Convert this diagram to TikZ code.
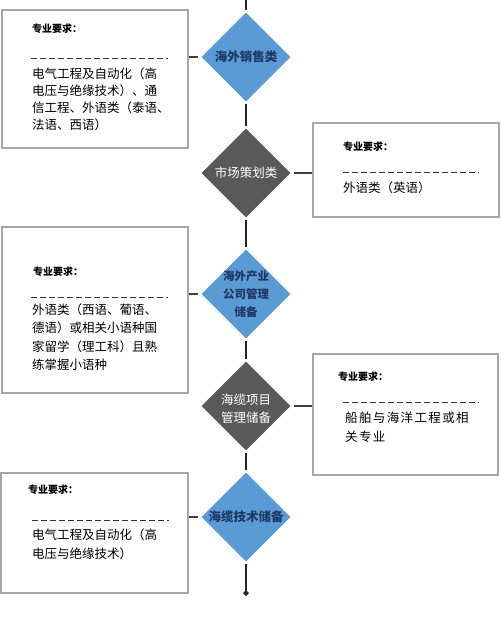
\documentclass[tikz,border=0pt]{standalone}
\usepackage{fontspec}
\setmainfont{Noto Sans CJK SC}
\newfontfamily\cjksp{Noto Sans CJK SC}[LetterSpace=11]
\usetikzlibrary{shapes.geometric,arrows.meta}
\definecolor{dblue}{HTML}{5B9BD5}
\definecolor{dgray}{HTML}{595959}
\definecolor{navy}{HTML}{1F3864}
\definecolor{boxgray}{HTML}{A6A6A6}
\definecolor{linegray}{HTML}{404040}
\tikzset{
  x=1pt, y=-1pt,
  reqbox/.style={draw=boxgray, line width=1.8pt, fill=white, inner sep=0, rectangle},
  dia/.style={diamond, aspect=1, inner sep=0, minimum width=92, minimum height=92, draw=white, line width=1.5pt},
  bluedia/.style={dia, fill=dblue},
  graydia/.style={dia, fill=dgray},
  bluelab/.style={inner sep=0, align=center, text=navy, font=\bfseries\fontsize{12.5}{18}\selectfont},
  bluelabm/.style={inner sep=0, align=center, text=navy, font=\bfseries\fontsize{11.5}{18}\selectfont},
  graylab/.style={inner sep=0, align=center, text=white, font=\fontsize{12.5}{18}\selectfont},
  reqlab/.style={inner sep=0, anchor=west, font=\bfseries\fontsize{10}{12}\selectfont},
  bodytext/.style={inner sep=0, anchor=north west, align=left, font=\fontsize{12.5}{#1}\selectfont},
  dashline/.style={draw=black!80, line width=0.9pt, dash pattern=on 6pt off 3pt},
  spine/.style={draw=black!85, line width=1.3pt},
  conn/.style={draw=linegray, line width=1.3pt},
}
\begin{document}
\begin{tikzpicture}
\useasboundingbox (0,0) rectangle (500,620);
\fill[white] (0,0) rectangle (500,620);

% spine
\coordinate (top) at (246,0);
\coordinate (bottom) at (246,596);

% diamonds
\node[bluedia] (d1) at (246,57) {};
\node[graydia] (d2) at (246,173) {};
\node[bluedia] (d3) at (246,294) {};
\node[graydia] (d4) at (246,406) {};
\node[bluedia] (d5) at (246,517) {};

\draw[spine] (top) -- (d1.north);
\draw[spine] (d1.south) -- (d2.north);
\draw[spine] (d2.south) -- (d3.north);
\draw[spine] (d3.south) -- (d4.north);
\draw[spine] (d4.south) -- (d5.north);
\draw[spine, -{Diamond[length=6pt,width=6pt]}] (d5.south) -- (bottom);

\node[bluelab] (t1) at (d1) {海外销售类};
\node[graylab] (t2) at (d2) {市场策划类};
\node[bluelabm] (t3) at (d3) {海外产业\\公司管理\\储备};
\node[graylab] (t4) at ([yshift=-3]d4.center) {海缆项目\\管理储备};
\node[bluelab] (t5) at (d5) {海缆技术储备};

% boxes
\node[reqbox, minimum width=186, minimum height=138] (b1) at (95,79) {};
\node[reqbox, minimum width=186, minimum height=94] (b2) at (406,170) {};
\node[reqbox, minimum width=186, minimum height=166] (b3) at (95,310) {};
\node[reqbox, minimum width=185, minimum height=121] (b4) at (405.5,414.5) {};
\node[reqbox, minimum width=187, minimum height=120] (b5) at (94.5,533) {};

% connectors
\draw[conn] (d1.west -| b1.east) -- ([xshift=-1]d1.west);
\draw[conn] ([xshift=1]d2.east) -- (d2.east -| b2.west);
\draw[conn] (d3.west -| b3.east) -- ([xshift=-1]d3.west);
\draw[conn] ([xshift=1]d4.east) -- (d4.east -| b4.west);
\draw[conn] (d5.west -| b5.east) -- ([xshift=-1]d5.west);

% box 1
\node[reqlab] (r1) at (32,29) {专业要求：};
\coordinate (l1a) at (31,58); \coordinate (l1b) at (168,58);
\draw[dashline] (l1a) -- (l1b);
\node[bodytext=17] (x1) at (32,68) {电气工程及自动化（高\\电压与绝缘技术）、通\\信工程、外语类（泰语、\\法语、西语）};

% box 2
\node[reqlab] (r2) at (343,147) {专业要求：};
\coordinate (l2a) at (343,172); \coordinate (l2b) at (479,172);
\draw[dashline] (l2a) -- (l2b);
\node[bodytext=17] (x2) at (343,181.5) {外语类（英语）};

% box 3
\node[reqlab] (r3) at (33,272) {专业要求：};
\coordinate (l3a) at (31,297); \coordinate (l3b) at (168,297);
\draw[dashline] (l3a) -- (l3b);
\node[bodytext=18.5] (x3) at (32,303.5) {外语类（西语、葡语、\\德语）或相关小语种国\\家留学（理工科）且熟\\练掌握小语种};

% box 4
\node[reqlab] (r4) at (338,377) {专业要求：};
\coordinate (l4a) at (343,402); \coordinate (l4b) at (479,402);
\draw[dashline] (l4a) -- (l4b);
\node[bodytext=19] (x4) at (345,411.5) {\cjksp 船舶与海洋工程或相\\\cjksp 关专业};

% box 5
\node[reqlab] (r5) at (28,490) {专业要求：};
\coordinate (l5a) at (32,520); \coordinate (l5b) at (169,520);
\draw[dashline] (l5a) -- (l5b);
\node[bodytext=19] (x5) at (32,528.5) {电气工程及自动化（高\\电压与绝缘技术）};
\end{tikzpicture}
\end{document}
